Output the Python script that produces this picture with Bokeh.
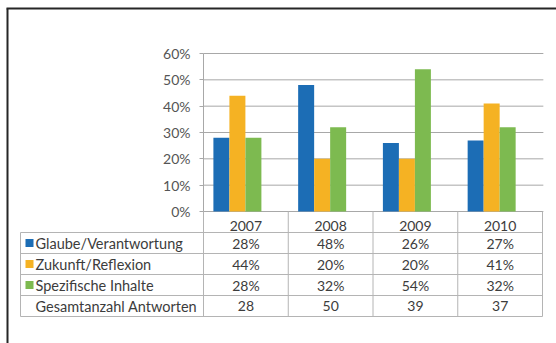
from bokeh.plotting import figure
from bokeh.models import Range1d, LinearAxis, FixedTicker, PrintfTickFormatter
from bokeh.embed import file_html
from bokeh.resources import INLINE
from bokeh.core.properties import value

# ---------------- data ----------------
years = ["2007", "2008", "2009", "2010"]
series_names = ["Glaube/Verantwortung", "Zukunft/Reflexion", "Spezifische Inhalte"]
glaube = [28, 48, 26, 27]
zukunft = [44, 20, 20, 41]
spezifisch = [28, 32, 54, 32]
total_label = "Gesamtanzahl Antworten"
gesamt = [28, 50, 39, 37]
y_ticks = [0, 10, 20, 30, 40, 50, 60]

# ---------------- style / layout ----------------
colors = ["#1c6db5", "#f5b223", "#7dba50"]
FONT = "Lato"
TXT = "#3c3c3c"
GRID = "#a8a8a8"
TABLE = "#b4b4b4"
W, H = 556, 343
AX_X, COL_W = 203, 84.75          # pixel of the value axis, width of a category column
ZERO_Y, PX_PER_PCT = 211, 158 / 60  # pixel of 0 %, pixels per percent


def xd(px):
    return (px - AX_X) / COL_W


def yd(py):
    return (ZERO_Y - py) / PX_PER_PCT


p = figure(width=W, height=H, x_range=Range1d(xd(0), xd(W)), y_range=Range1d(yd(H), yd(0)),
           output_backend="svg", toolbar_location=None, min_border=0,
           x_axis_type=None, y_axis_type=None)
p.outline_line_color = None
p.xgrid.visible = False
p.ygrid.visible = False
p.background_fill_color = "white"

n = len(years)

# grid lines (incl. 0 % baseline)
p.segment(x0=[0] * len(y_ticks), x1=[n + 0.01] * len(y_ticks), y0=y_ticks, y1=y_ticks,
          line_color=GRID, line_width=1)

# bars
BW = 16 / COL_W
GOFF = -0.1
for j, vals in enumerate([glaube, zukunft, spezifisch]):
    xs = [i + 0.5 + GOFF + (j - 1) * BW for i in range(n)]
    p.vbar(x=xs, top=vals, bottom=0, width=BW, fill_color=colors[j], line_color=None)

# y axis
yax = LinearAxis(fixed_location=0, ticker=FixedTicker(ticks=y_ticks, minor_ticks=[]),
                 formatter=PrintfTickFormatter(format="%d%%"), bounds=(0, 60))
yax.axis_line_color = GRID
yax.major_tick_line_color = GRID
yax.major_tick_in = 0
yax.major_tick_out = 4
yax.minor_tick_line_color = None
yax.major_label_standoff = 9
yax.major_label_text_font = FONT
yax.major_label_text_font_size = "14px"
yax.major_label_text_color = "#555555"
p.add_layout(yax, "left")

# x axis (year row of the data table)
xax = LinearAxis(fixed_location=0, ticker=FixedTicker(ticks=[i + 0.5 for i in range(n)], minor_ticks=[]),
                 major_label_overrides={i + 0.5: y for i, y in enumerate(years)})
xax.axis_line_color = None
xax.major_tick_line_color = None
xax.minor_tick_line_color = None
xax.major_label_standoff = 3
xax.major_label_text_font = FONT
xax.major_label_text_font_size = "14px"
xax.major_label_text_color = TXT
p.add_layout(xax, "below")

# data table lines
row_px = [211, 232, 253, 274, 295, 316]
TL = 20  # table left pixel
hy = [yd(r) for r in row_px[1:]]
p.segment(x0=[xd(TL)] * len(hy), x1=[n] * len(hy), y0=hy, y1=hy, line_color=TABLE, line_width=1)
p.segment(x0=list(range(n + 1)), x1=list(range(n + 1)), y0=[0] * (n + 1), y1=[hy[-1]] * (n + 1),
          line_color=TABLE, line_width=1)
p.segment(x0=[xd(TL)], x1=[xd(TL)], y0=[hy[0]], y1=[hy[-1]], line_color=TABLE, line_width=1)

# table rows
rows = [glaube, zukunft, spezifisch]
row_c = [yd((row_px[k] + row_px[k + 1]) / 2) for k in range(1, 5)]
for k, vals in enumerate(rows):
    p.text(x=[i + 0.5 for i in range(n)], y=[row_c[k]] * n, text=[f"{v}%" for v in vals],
           text_align="center", text_baseline="middle", text_font=value(FONT),
           text_font_size="14px", text_color=TXT)
p.text(x=[i + 0.5 for i in range(n)], y=[row_c[3]] * n, text=[str(v) for v in gesamt],
       text_align="center", text_baseline="middle", text_font=value(FONT),
       text_font_size="14px", text_color=TXT)

labels = series_names + [total_label]
p.text(x=[xd(35)] * 4, y=row_c, text=labels, text_align="left", text_baseline="middle",
       text_font=value(FONT), text_font_size="14.5px", text_color=TXT)
p.scatter(x=[xd(29)] * 3, y=row_c[:3], marker="square", size=8, fill_color=colors, line_color=None)

# outer frame
p.segment(x0=[xd(6), xd(7)], x1=[xd(W), xd(7)], y0=[yd(8), yd(8)], y1=[yd(8), yd(H)],
          line_color="#262626", line_width=2)

open("out.html", "w").write(file_html(p, INLINE))
